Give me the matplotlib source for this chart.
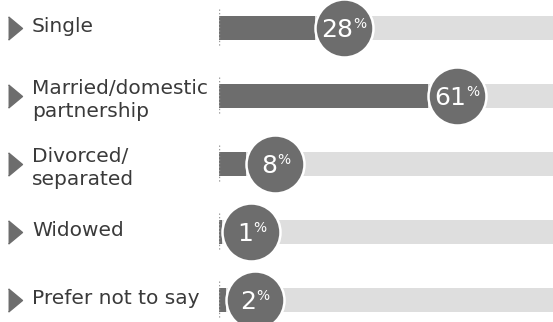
import numpy as np
import matplotlib.pyplot as plt
from matplotlib import transforms

categories = ['Single', 'Married/domestic\npartnership', 'Divorced/\nseparated',
              'Widowed', 'Prefer not to say']
values = [28, 61, 8, 1, 2]

dark = '#6d6d6d'
light = '#dedede'
text_col = '#3a3a3a'

W, H = 553, 322
fig = plt.figure(figsize=(W / 100, H / 100), dpi=100)
# bar area starts at x=219px; 100% falls just past the right edge
ax = fig.add_axes([219 / W, 0, 342 / W, 1])
ax.axis('off')

n = len(values)
rows = np.arange(n)

ax.barh(rows, [100] * n, height=0.34, color=light, zorder=1)
ax.barh(rows, values, height=0.34, color=dark, zorder=2)
ax.vlines([0] * n, rows - 0.28, rows + 0.28, colors='#9a9a9a',
          linestyles=(0, (1, 1.5)), lw=1, zorder=2)

# bubbles sit just right of the bar end
R = 29  # px
bub = transforms.offset_copy(ax.transData, fig=fig, x=R, units='dots')
ax.scatter(values, rows, s=(2 * R * 0.72) ** 2, color=dark, edgecolors='white',
           linewidths=1.8, transform=bub, zorder=3, clip_on=False)

nums, pcts = [], []
for v, r in zip(values, rows):
    t1 = ax.text(v, r, str(v), color='white', fontsize=18, va='baseline',
                 ha='left', transform=bub, zorder=4, clip_on=False)
    t2 = ax.text(v, r, '%', color='white', fontsize=10, va='baseline',
                 ha='left', transform=bub, zorder=4, clip_on=False)
    nums.append(t1)
    pcts.append(t2)

ax.set_xlim(0, 100)
# rows 68px apart, first row centred 28px below the top
ax.set_ylim((H - 28) / 68, -28 / 68)

fig.canvas.draw()
for t1, t2 in zip(nums, pcts):
    w1 = t1.get_window_extent().width
    w2 = t2.get_window_extent().width
    x0 = -(w1 + w2) / 2
    t1.set_transform(transforms.offset_copy(bub, fig=fig, x=x0, y=-9, units='dots'))
    t2.set_transform(transforms.offset_copy(bub, fig=fig, x=x0 + w1, y=0, units='dots'))

# labels and arrow markers on the left
lab = transforms.blended_transform_factory(fig.transFigure, ax.transData)
tri = [(-0.6, -1), (0.6, 0), (-0.6, 1)]
ax.scatter([14.5 / W] * n, rows, transform=lab, marker=tri, s=280, color=dark,
           clip_on=False, zorder=3)
for c, r in zip(categories, rows):
    dy = -4 if '\n' in c else 2
    ax.text(32 / W, r, c, fontsize=14.5, color=text_col, va='center', ha='left',
            linespacing=1.3,
            transform=transforms.offset_copy(lab, fig=fig, y=dy, units='dots'))

fig.savefig('out.png', dpi=100)
